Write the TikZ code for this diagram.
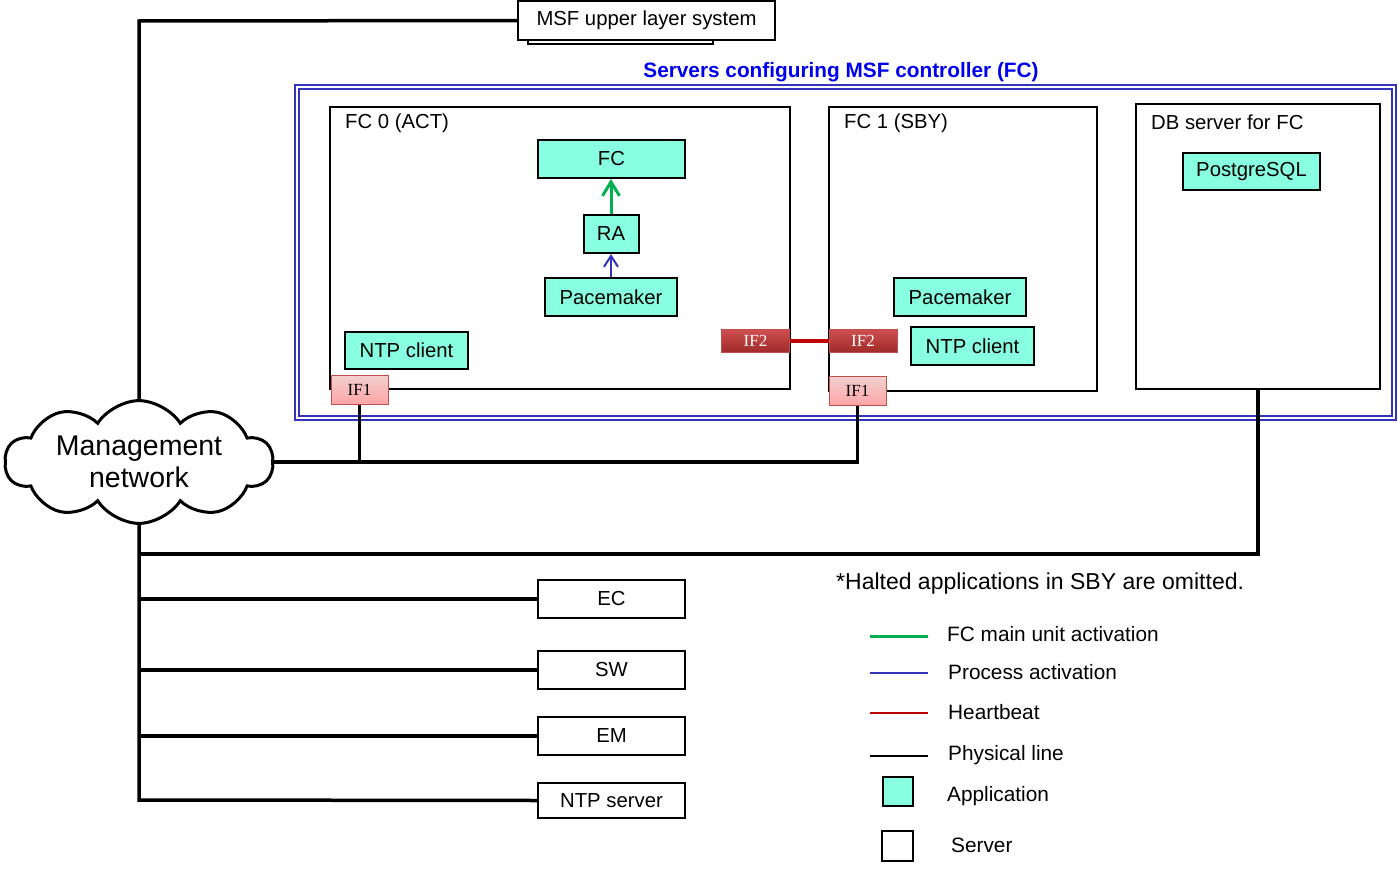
\documentclass[tikz,border=0pt]{standalone}
\usepackage{fontspec}
\setmainfont{Liberation Sans}
\newfontfamily\ifserif{Liberation Serif}
\usetikzlibrary{arrows.meta,shapes.symbols}
\definecolor{appc}{HTML}{88FFE0}
\definecolor{frameblue}{HTML}{3333BB}
\definecolor{titleblue}{HTML}{0000EE}
\definecolor{actgreen}{HTML}{00B050}
\definecolor{procblue}{HTML}{3434BB}
\definecolor{hbred}{HTML}{C00000}
\definecolor{ifborder}{HTML}{C0504D}
\definecolor{iftop}{HTML}{D05050}
\definecolor{ifbot}{HTML}{A02A2A}
\begin{document}
\begin{tikzpicture}[x=1pt,y=-1pt,
  font=\fontsize{20.3}{23}\selectfont,
  srv/.style={draw,line width=2pt,fill=white,inner sep=0pt},
  appbox/.style={draw,line width=2pt,fill=appc,inner sep=0pt},
  plain/.style={draw,line width=2pt,fill=white,inner sep=0pt},
  ifone/.style={draw=ifborder,line width=1pt,top color=black!8!pink!60!white,bottom color=red!35!white,inner sep=0pt,
    minimum width=57pt,minimum height=29pt,font=\ifserif\fontsize{17}{19}\selectfont},
  iftwo/.style={draw=ifborder,line width=1pt,top color=iftop,bottom color=ifbot,text=white,inner sep=0pt,
    minimum width=68pt,minimum height=23pt,font=\ifserif\fontsize{17}{19}\selectfont},
  phys/.style={line width=3.5pt,black},
  greenarr/.style={line width=3pt,actgreen,-{Straight Barb[length=14pt,width=17pt,line width=3pt]}},
  bluearr/.style={line width=2pt,procblue,-{Straight Barb[length=11pt,width=14pt,line width=2pt]}},
  lbl/.style={anchor=west,inner sep=0pt}
]
\useasboundingbox (0,0) rectangle (1398,870);

% MSF upper layer system
\draw[line width=2pt,fill=white] (528,20) rectangle (713,44);
\node[plain,minimum width=257pt,minimum height=39pt] (msf) at (646.5,20.5) {MSF upper layer system};

% blue frame
\draw[frameblue,line width=2pt] (295,85) rectangle (1396,420);
\draw[frameblue,line width=2pt] (299,89) rectangle (1392,416);
\node[font=\bfseries\fontsize{20.8}{23}\selectfont,text=titleblue] (title) at (841,72) {Servers configuring MSF controller (FC)};

% FC0
\node[srv,minimum width=460pt,minimum height=282pt] (fc0) at (560,248) {};
\node[lbl] (fc0l) at (345,123) {FC 0 (ACT)};
\node[appbox,minimum width=147pt,minimum height=38pt] (fc) at (611.5,159) {FC};
\node[appbox,minimum width=55pt,minimum height=38pt] (ra) at (611,234) {RA};
\node[appbox,minimum width=132pt,minimum height=38pt] (pm0) at (611,297) {Pacemaker};
\node[appbox,minimum width=123pt,minimum height=37pt] (ntp0) at (406.5,350.5) {NTP client};
\draw[greenarr] (ra.north) -- (ra.north |- fc.south);
\draw[bluearr] (pm0.north) -- (ra.south);

% FC1
\node[srv,minimum width=268pt,minimum height=284pt] (fc1) at (963,249) {};
\node[lbl] (fc1l) at (844,123) {FC 1 (SBY)};
\node[appbox,minimum width=132pt,minimum height=38pt] (pm1) at (960,297) {Pacemaker};
\node[appbox,minimum width=123pt,minimum height=38pt] (ntp1) at (972.5,346) {NTP client};

% DB
\node[srv,minimum width=244pt,minimum height=285pt] (db) at (1258,246.5) {};
\node[lbl] (dbl) at (1151,122) {DB server for FC};
\node[appbox,minimum width=137pt,minimum height=37pt] (pg) at (1251.5,171.5) {PostgreSQL};

% interfaces
\node[iftwo] (if2a) at (755.5,340.5) {IF2};
\node[iftwo] (if2b) at (863,340.5) {IF2};
\node[ifone] (if1a) at (359.5,389.5) {IF1};
\node[ifone] (if1b) at (857.5,391) {IF1};
\draw[hbred,line width=4pt] (if2a.east) -- (if2b.west);

% cloud
\node[cloud,draw,line width=3pt,fill=white,cloud puffs=10,cloud puff arc=115,aspect=2.7,
  minimum width=268pt,minimum height=100pt,inner sep=0pt,align=center,
  font=\fontsize{28.5}{32}\selectfont] (cloud) at (139,462) {Management\\network};

% devices
\node[plain,minimum width=147pt,minimum height=38pt] (ec) at (611.5,599) {EC};
\node[plain,minimum width=147pt,minimum height=38pt] (sw) at (611.5,670) {SW};
\node[plain,minimum width=147pt,minimum height=38pt] (em) at (611.5,736) {EM};
\node[plain,minimum width=147pt,minimum height=35pt] (ntps) at (611.5,800.5) {NTP server};

% physical lines
\coordinate (top) at (139,21);
\coordinate (bus) at (139,554);
\coordinate (bot) at (139,800);
\draw[phys] (msf.west) -- (top) -- (cloud.north);
\draw[phys] (cloud.south) -- (bot) -- (ntps.west);
\draw[phys] (ec.west) -- (ec.west -| bot);
\draw[phys] (sw.west) -- (sw.west -| bot);
\draw[phys] (em.west) -- (em.west -| bot);
\draw[phys] (db.south) |- (bus);
\draw[phys] (cloud.east) -- (cloud.east -| if1b.south) -- (if1b.south);
\draw[phys] (if1a.south) -- (if1a.south |- cloud.east);

% note
\node[lbl,font=\fontsize{23}{26}\selectfont] (note) at (836,584) {*Halted applications in SBY are omitted.};

% legend
\coordinate (g1) at (870,636); \coordinate (g2) at (928,636);
\coordinate (b1) at (870,673); \coordinate (b2) at (928,673);
\coordinate (r1) at (870,713); \coordinate (r2) at (928,713);
\coordinate (k1) at (870,756); \coordinate (k2) at (928,756);
\draw[actgreen,line width=3pt] (g1) -- (g2);
\draw[procblue,line width=2pt] (b1) -- (b2);
\draw[hbred,line width=2pt] (r1) -- (r2);
\draw[black,line width=2pt] (k1) -- (k2);
\begin{scope}[every node/.append style={font=\fontsize{20.8}{23}\selectfont}]
\node[lbl] (l1) at (947,634) {FC main unit activation};
\node[lbl] (l2) at (948,672) {Process activation};
\node[lbl] (l3) at (948,712) {Heartbeat};
\node[lbl] (l4) at (948,755) {Physical line};
\node[lbl] (l5) at (947,796) {Application};
\node[lbl] (l6) at (951,845) {Server};
\end{scope}
\node[appbox,minimum width=30pt,minimum height=29pt] (lapp) at (898,791.5) {};
\node[plain,minimum width=31pt,minimum height=30pt] (lsrv) at (897.5,846) {};
\end{tikzpicture}
\end{document}
